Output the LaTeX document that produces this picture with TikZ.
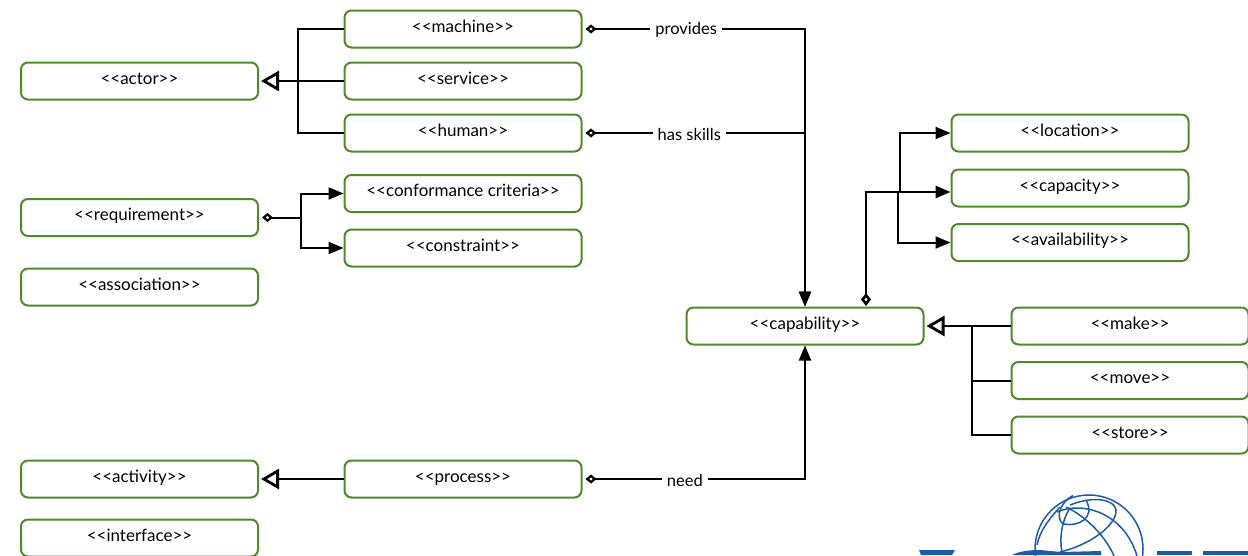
\documentclass[tikz,border=0pt]{standalone}
\usepackage{fontspec}
\newfontfamily\elemfont{Lato}
\usetikzlibrary{arrows.meta}
\definecolor{elemgreen}{HTML}{4F8A2B}
\definecolor{logoblue}{HTML}{1F5AA6}

\begin{document}
\begin{tikzpicture}[
    x=1pt, y=-1pt,
    elem/.style={rectangle, draw=elemgreen, fill=white, line width=2pt, rounded corners=7pt, minimum width=237pt, minimum height=37pt, inner sep=0pt, text height=12pt, text depth=6pt, font=\elemfont\fontsize{17}{18}\selectfont},
    link/.style={line width=2pt, draw=black},
    rel/.style={fill=white, inner sep=5pt, yshift=-1pt, font=\elemfont\fontsize{16.5}{18}\selectfont},
    has/.style={{Diamond[open, length=11pt, width=9pt, line width=2.2pt]}-, shorten <=3pt},
    hasbig/.style={{Diamond[open, length=13pt, width=10pt, line width=2.6pt]}-, shorten <=1pt},
    to/.style={-{Triangle[length=15pt, width=12pt]}},
    hasto/.style={{Diamond[open, length=11pt, width=9pt, line width=2.2pt]}-{Triangle[length=15pt, width=12pt]}, shorten <=3pt},
    isa/.style={-{Triangle[open, length=18pt, width=20pt, line width=2.8pt]}, shorten >=2pt, line width=2.7pt}
]
    \useasboundingbox (0,0) rectangle (1248,555);
    \clip (0,0) rectangle (1248,555);

    % Left column
    \node[elem] (actor) at (139.5,81) {<<actor>>};
    \node[elem] (requirement) at (139.5,217.5) {<<requirement>>};
    \node[elem] (association) at (139.5,287) {<<association>>};
    \node[elem] (activity) at (139.5,479) {<<activity>>};
    \node[elem] (interface) at (139.5,538) {<<interface>>};

    % Middle column
    \node[elem] (machine) at (463,29) {<<machine>>};
    \node[elem] (service) at (463,81) {<<service>>};
    \node[elem] (human) at (463,133) {<<human>>};
    \node[elem] (conformance) at (463,193.5) {<<conformance criteria>>};
    \node[elem] (constraint) at (463,248) {<<constraint>>};
    \node[elem] (process) at (463,479) {<<process>>};

    % Right side
    \node[elem] (capability) at (805,326) {<<capability>>};
    \node[elem] (location) at (1070,133) {<<location>>};
    \node[elem] (capacity) at (1070,188) {<<capacity>>};
    \node[elem] (availability) at (1070,242.5) {<<availability>>};
    \node[elem] (make) at (1130,326) {<<make>>};
    \node[elem] (move) at (1130,380.5) {<<move>>};
    \node[elem] (store) at (1130,435) {<<store>>};

    % Junctions
    \coordinate (actorjoin) at (298,81);
    \coordinate (reqjoin) at (301,217.5);
    \coordinate (capfoot) at (866,307);
    \coordinate (capupper) at (900,192);
    \coordinate (caplower) at (897.5,192);
    \coordinate (capjoin) at (972,326);

    % Generalisations
    \draw[link] (machine.west) -| (actorjoin);
    \draw[link] (human.west) -| (actorjoin);
    \draw[link] (service.west) -- (actorjoin);
    \draw[link, isa] (actorjoin) -- (actor.east);
    \draw[link, isa] (process.west) -- (activity.east);
    \draw[link] (make.west) -- (capjoin);
    \draw[link] (move.west) -| (capjoin);
    \draw[link] (store.west) -| (capjoin);
    \draw[link, isa] (capjoin) -- (capability.east);

    % Aggregations
    \draw[link, hasto] (machine.east) -| node[rel, pos=0.233] {provides} (capability.north);
    \draw[link, hasto] (human.east) -| node[rel, pos=0.24] {has skills} (capability.north);
    \draw[link, hasto] (process.east) -| node[rel, pos=0.23] {need} (capability.south);
    \draw[link, has] (requirement.east) -- (reqjoin);
    \draw[link, to] (reqjoin) |- (conformance.west);
    \draw[link, to] (reqjoin) |- (constraint.west);
    \draw[link, hasbig, line width=2.7pt] (capfoot) |- (caplower);
    \draw[link, line width=2.7pt, to] (caplower) -- (capacity.west |- caplower);
    \draw[link, to] (capupper) |- (location.west);
    \draw[link, to] (caplower) |- (availability.west);

    % Logo, cut by the lower edge
    \begin{scope}[draw=logoblue, line width=1.5pt]
        \draw (1089,549) circle (54);
        \draw (1073,495.5) .. controls (1056,505) and (1057,522) .. (1064,524) .. controls (1078,527) and (1096,518) .. (1086,500);
        \draw (1070,508) .. controls (1062,520) and (1059,538) .. (1062,552);
        \draw (1066,507) .. controls (1085,516) and (1105,535) .. (1114,556);
        \draw (1060,507) .. controls (1050,518) and (1040,530) .. (1037,545);
        \draw (1070,505) .. controls (1095,495) and (1115,500) .. (1116,510) .. controls (1117,525) and (1090,545) .. (1060,552);
        \draw (1057,512) .. controls (1085,500) and (1125,515) .. (1137,556);
    \end{scope}
    \fill[logoblue] (919,550) -- (955,550) -- (952,555) -- (921,555) -- cycle;
    \fill[logoblue] (1012,555) .. controls (1020,551) and (1030,550) .. (1040,550) -- (1061,552) -- (1101,551) -- (1101,555) -- cycle;
    \fill[logoblue] (1157,551) rectangle (1192,555);
    \fill[logoblue] (1203,551) rectangle (1248,555);
\end{tikzpicture}
\end{document}
